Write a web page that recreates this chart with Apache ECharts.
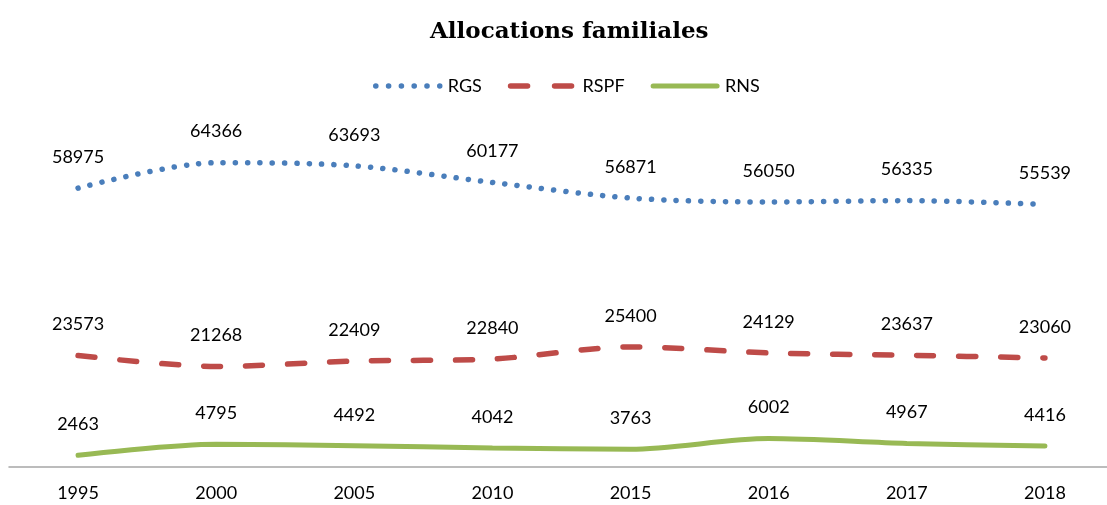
<!DOCTYPE html>
<html>
<head>
<meta charset="utf-8">
<script src="https://cdn.jsdelivr.net/npm/echarts@6/dist/echarts.min.js"></script>
<style>
html,body{margin:0;padding:0;background:#fff;overflow:hidden;}
#c{width:1114px;height:505px;}
</style>
</head>
<body>
<div id="c"></div>
<script>
const categories = ['1995','2000','2005','2010','2015','2016','2017','2018'];
const rgs = [58975, 64366, 63693, 60177, 56871, 56050, 56335, 55539];
const rspf = [23573, 21268, 22409, 22840, 25400, 24129, 23637, 23060];
const rns = [2463, 4795, 4492, 4042, 3763, 6002, 4967, 4416];

const labelFont = { fontFamily: 'Lato, "Open Sans", sans-serif', fontSize: 18, color: '#000' };

function lineSeries(name, data, color, lineStyle) {
  return {
    name: name, type: 'line', data: data, smooth: 0.3,
    symbol: 'circle', symbolSize: 0.01, showSymbol: true,
    color: color,
    itemStyle: { color: color },
    lineStyle: Object.assign({ color: color, cap: 'round' }, lineStyle),
    label: Object.assign({ show: true, position: 'top', distance: 22 }, labelFont),
    emphasis: { disabled: true }
  };
}

const chart = echarts.init(document.getElementById('c'));
chart.setOption({
  animation: false,
  backgroundColor: '#fff',
  title: {
    text: 'Allocations familiales',
    left: 425,
    top: 16,
    textStyle: { fontFamily: '"DejaVu Serif", serif', fontWeight: 'bold', fontSize: 23, color: '#000' }
  },
  legend: {
    top: 72,
    left: 368,
    itemWidth: 64,
    itemHeight: 14,
    itemGap: 26,
    itemStyle: { opacity: 0 },
    lineStyle: { width: 5.5 },
    textStyle: Object.assign({ padding: [0, 0, 0, 3] }, labelFont),
    data: [
      { name: 'RGS', lineStyle: { width: 5.5, type: [0.1, 12.7], cap: 'round' } },
      { name: 'RSPF', lineStyle: { width: 5.5, type: [17, 27], cap: 'round' } },
      { name: 'RNS', lineStyle: { width: 5, cap: 'round' } }
    ]
  },
  grid: { left: 9, right: 0, top: 136, bottom: 38, containLabel: false },
  xAxis: {
    type: 'category',
    data: categories,
    boundaryGap: true,
    axisLine: { lineStyle: { color: '#a6a6a6', width: 1.5 } },
    axisTick: { show: false },
    axisLabel: Object.assign({ margin: 17 }, labelFont)
  },
  yAxis: {
    type: 'value',
    min: 0,
    max: 70000,
    show: false,
    splitLine: { show: false }
  },
  series: [
    lineSeries('RGS', rgs, '#4a7ebb', { width: 5.5, type: [0.1, 12.2] }),
    lineSeries('RSPF', rspf, '#be4b48', { width: 5.5, type: [17, 25] }),
    lineSeries('RNS', rns, '#98b954', { width: 5 })
  ]
});
</script>
</body>
</html>
